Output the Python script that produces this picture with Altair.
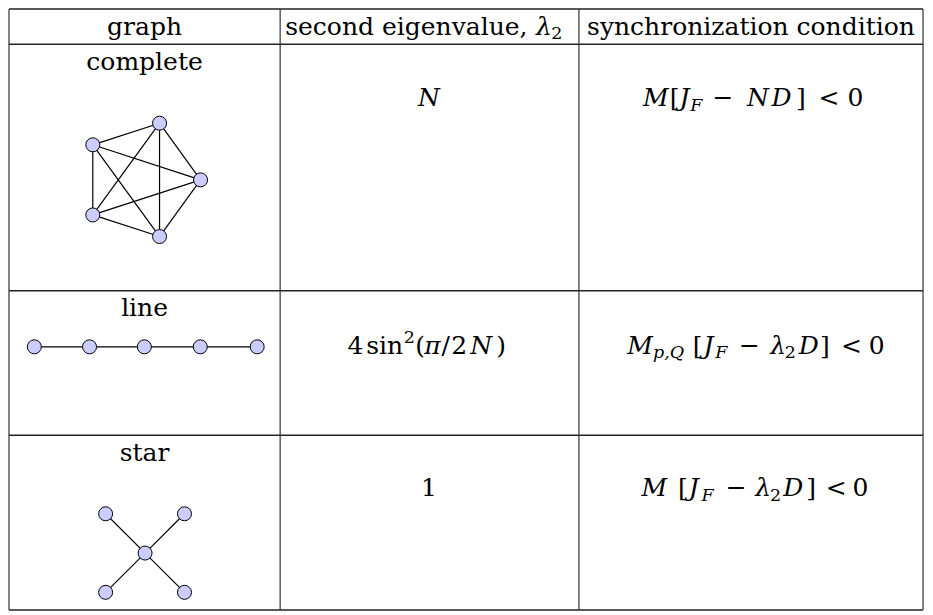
import altair as alt
import pandas as pd

# ---------------- content ----------------
header_tokens = [
    [("graph", "r")],
    [("second eigenvalue,", "r"), ("λ", "i"), ("2", "subr")],
    [("synchronization condition", "r")],
]
graph_labels = ["complete", "line", "star"]
eigen_tokens = [
    [("N", "i")],
    [("4", "r"), ("sin", "r"), ("2", "sup"), ("(", "r"), ("π", "i"), ("/", "r"),
     ("2", "r"), ("N", "i"), (")", "r")],
    [("1", "r")],
]
cond_tokens = [
    [("M", "i"), ("[", "r"), ("J", "i"), ("F", "sub"), ("−", "r"), ("N", "i"),
     ("D", "i"), ("]", "r"), ("<", "r"), ("0", "r")],
    [("M", "i"), ("p,Q", "sub"), ("[", "r"), ("J", "i"), ("F", "sub"), ("−", "r"),
     ("λ", "i"), ("2", "subr"), ("D", "i"), ("]", "r"), ("<", "r"), ("0", "r")],
    [("M", "i"), ("[", "r"), ("J", "i"), ("F", "sub"), ("−", "r"), ("λ", "i"),
     ("2", "subr"), ("D", "i"), ("]", "r"), ("<", "r"), ("0", "r")],
]

# graph drawings (node positions)
complete_x = [157.7, 90.0, 199.3, 90.0, 157.7]
complete_y = [117.3, 139.3, 175.0, 210.7, 232.7]
line_x = [30.7, 86.7, 142.3, 199.0, 256.7]
line_y = [345, 345, 345, 345, 345]
star_x = [143, 103, 183, 103, 183]
star_y = [555, 515, 515, 595, 595]
complete_edges = [(0, 1), (0, 2), (0, 3), (0, 4), (1, 2), (1, 3), (1, 4), (2, 3), (2, 4), (3, 4)]
line_edges = [(0, 1), (1, 2), (2, 3), (3, 4)]
star_edges = [(0, 1), (0, 2), (0, 3), (0, 4)]

# ---------------- layout ----------------
col_edges = [5, 280, 583, 932]
row_edges = [1, 37, 288, 435, 613]
header_x = [[142.5], [408, 547.5, 560.5], [757.5]]
header_base = 27
label_x = 142.5
label_base = [63, 314, 461]
row_base = [100, 352, 497]
eigen_x = [[431], [356.5, 386, 411, 422, 434.5, 448, 461.5, 484, 504], [431]]
cond_x = [
    [661, 680, 690, 702, 729, 764.5, 788.5, 808, 836.5, 863.5],
    [645, 674, 703.5, 714.5, 727.5, 756, 785, 797.5, 816, 832.5, 859.5, 885],
    [659.5, 688.5, 699.5, 713.5, 742.5, 770, 782.5, 800.5, 818.5, 844, 868.5],
]
FONT = "DejaVu Serif"
MAIN, SMALL = 25, 17.5
styles = {"r": (False, MAIN, 0), "i": (True, MAIN, 0), "sub": (True, SMALL, 4.5),
          "subr": (False, SMALL, 4.5), "sup": (False, SMALL, -11)}

tok_rows = []


def add(tokens, xs, base):
    for (t, s), x in zip(tokens, xs):
        it, size, dy = styles[s]
        tok_rows.append({"x": x, "y": base + dy, "text": t, "size": size, "italic": it})


for toks, xs in zip(header_tokens, header_x):
    add(toks, xs, header_base)
for lab, b in zip(graph_labels, label_base):
    add([(lab, "r")], [label_x], b)
for i in range(3):
    add(eigen_tokens[i], eigen_x[i], row_base[i])
    add(cond_tokens[i], cond_x[i], row_base[i])
tokens = pd.DataFrame(tok_rows)

nodes = []
edges = []
for gx, gy, ge in [(complete_x, complete_y, complete_edges),
                   (line_x, line_y, line_edges),
                   (star_x, star_y, star_edges)]:
    for x, y in zip(gx, gy):
        nodes.append({"x": x, "y": y})
    for a, b in ge:
        edges.append({"x": gx[a], "y": gy[a], "x2": gx[b], "y2": gy[b]})
nodes = pd.DataFrame(nodes)
edges = pd.DataFrame(edges)

hlines = pd.DataFrame({"y": row_edges, "x": col_edges[0], "x2": col_edges[-1]})
vlines = pd.DataFrame({"x": col_edges, "y": row_edges[0], "y2": row_edges[-1]})

X = alt.Scale(domain=[4, 934], nice=False, zero=False)
Y = alt.Scale(domain=[0, 614], nice=False, zero=False, reverse=True)

h = alt.Chart(hlines).mark_rule(color="#222", strokeWidth=1.5).encode(
    x=alt.X("x:Q", scale=X, axis=None), x2="x2:Q", y=alt.Y("y:Q", scale=Y, axis=None))
v = alt.Chart(vlines).mark_rule(color="#333", strokeWidth=1.2).encode(
    x=alt.X("x:Q", scale=X, axis=None), y=alt.Y("y:Q", scale=Y, axis=None), y2="y2:Q")
e = alt.Chart(edges).mark_rule(color="black", strokeWidth=1.2).encode(
    x=alt.X("x:Q", scale=X, axis=None), y=alt.Y("y:Q", scale=Y, axis=None),
    x2="x2:Q", y2="y2:Q")
n = alt.Chart(nodes).mark_point(shape="circle", fill="#ccccff", fillOpacity=1,
                                 stroke="black", strokeWidth=1, size=196, opacity=1).encode(
    x=alt.X("x:Q", scale=X, axis=None), y=alt.Y("y:Q", scale=Y, axis=None))


def text_layer(italic):
    return alt.Chart(tokens[tokens["italic"] == italic]).mark_text(
        font=FONT, fontStyle="italic" if italic else "normal",
        align="center", baseline="alphabetic", color="black").encode(
        x=alt.X("x:Q", scale=X, axis=None), y=alt.Y("y:Q", scale=Y, axis=None),
        text="text:N", size=alt.Size("size:Q", scale=None))


chart = alt.layer(h, v, e, n, text_layer(False), text_layer(True)).properties(
    width=917, height=603, autosize=alt.AutoSizeParams(type="none"), padding=0
).configure_view(stroke=None)

chart.save("out.html", embed_options={"renderer": "svg", "actions": False})
